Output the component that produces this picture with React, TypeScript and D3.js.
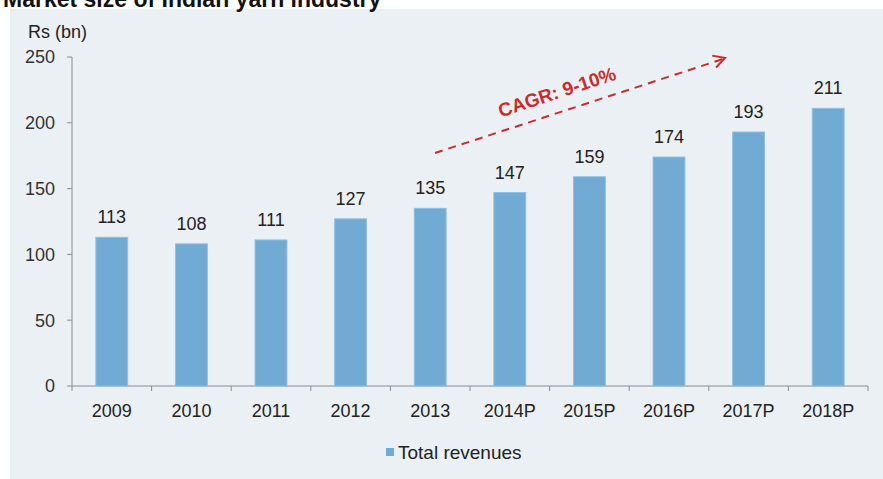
import React from "react";
import * as d3 from "d3";

const categories = ["2009", "2010", "2011", "2012", "2013", "2014P", "2015P", "2016P", "2017P", "2018P"];
const revenues = [113, 108, 111, 127, 135, 147, 159, 174, 193, 211];
const yTicks = [0, 50, 100, 150, 200, 250];
const seriesName = "Total revenues";
const titleText = "Market size of Indian yarn industry";
const unitLabel = "Rs (bn)";
const cagrLabel = "CAGR: 9-10%";

const W = 883;
const H = 479;
const FONT = "'Liberation Sans', Arial, sans-serif";

export default function App() {
  const x0 = 72, x1 = 868;
  const y = d3.scaleLinear().domain([0, 250]).range([386, 57]);
  const x = d3.scaleBand<string>().domain(categories).range([x0, x1]).paddingInner(0.6).paddingOuter(0.3);
  const step = (x1 - x0) / categories.length;

  const ax1 = 435, ay1 = 153, ax2 = 725, ay2 = 58;
  const ang = Math.atan2(ay2 - ay1, ax2 - ax1);
  const angDeg = (ang * 180) / Math.PI;
  const ah = 13;
  const head = [
    [ax2 - ah * Math.cos(ang - 0.5), ay2 - ah * Math.sin(ang - 0.5)],
    [ax2, ay2],
    [ax2 - ah * Math.cos(ang + 0.5), ay2 - ah * Math.sin(ang + 0.5)],
  ];

  return (
    <svg width={W} height={H} style={{ position: "absolute", left: 0, top: 0, background: "#fff" }} fontFamily={FONT}>
      <rect x={10} y={9} width={W - 10} height={H - 9} fill="#ebf0f5" />
      <text x={3} y={7} fontSize={23} fontWeight="bold" fill="#111">{titleText}</text>
      <text x={28} y={38} fontSize={18} fill="#222">{unitLabel}</text>

      <line x1={x0} x2={x0} y1={y(250)} y2={y(0)} stroke="#8c8c8c" strokeWidth={1} />
      {yTicks.map((t) => (
        <g key={t}>
          <line x1={x0 - 5} x2={x0} y1={y(t)} y2={y(t)} stroke="#8c8c8c" />
          <text x={55} y={y(t)} dy="0.35em" textAnchor="end" fontSize={18} fill="#333">{t}</text>
        </g>
      ))}

      <line x1={x0} x2={x1} y1={y(0)} y2={y(0)} stroke="#8c8c8c" />
      {d3.range(categories.length + 1).map((i) => (
        <line key={i} x1={x0 + i * step} x2={x0 + i * step} y1={y(0)} y2={y(0) + 5} stroke="#8c8c8c" />
      ))}

      {categories.map((c, i) => {
        const bx = x(c)!;
        const bw = x.bandwidth();
        const v = revenues[i];
        return (
          <g key={c}>
            <rect x={bx} y={y(v)} width={bw} height={y(0) - y(v)} fill="#71aad3" stroke="#8fbfe2" strokeWidth={1} />
            <text x={bx + bw / 2} y={y(v) - 14} textAnchor="middle" fontSize={18} fill="#222">{v}</text>
            <text x={x0 + (i + 0.5) * step} y={417} textAnchor="middle" fontSize={18} fill="#222">{c}</text>
          </g>
        );
      })}

      <line x1={ax1} y1={ay1} x2={ax2 - 2} y2={ay2 + 1} stroke="#cc2b2b" strokeWidth={2} strokeDasharray="8,6" />
      <polyline points={head.map((p) => p.join(",")).join(" ")} fill="none" stroke="#cc2b2b" strokeWidth={2} />
      <text x={557} y={92} dy="0.35em" textAnchor="middle" fontSize={19} fontWeight="bold" fill="#cc2b2b"
        transform={`rotate(${angDeg} 557 92)`}>{cagrLabel}</text>

      <rect x={386} y={448} width={8} height={8} fill="#71aad3" />
      <text x={398} y={452} dy="0.35em" fontSize={19} fill="#222">{seriesName}</text>
    </svg>
  );
}
